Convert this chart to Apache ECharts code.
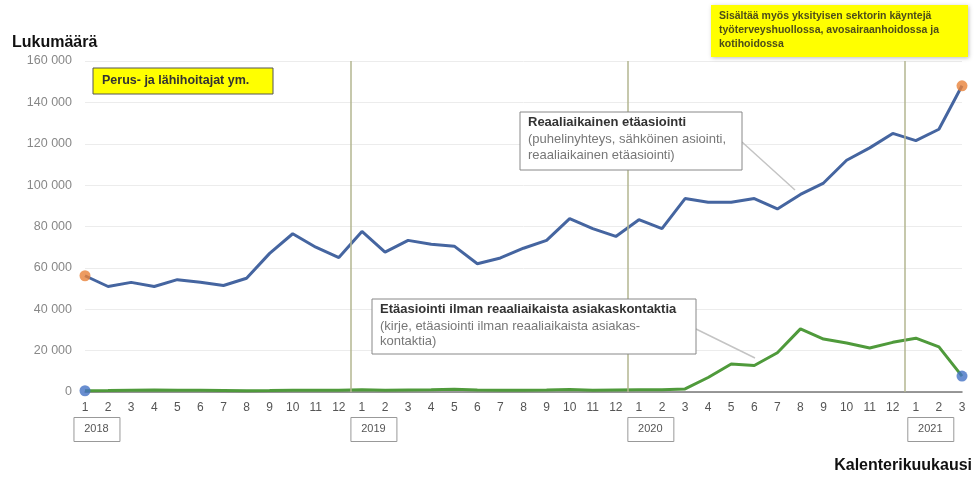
<!DOCTYPE html>
<html lang="fi">
<head>
    <meta charset="UTF-8">
    <title>Etäasiointi</title>
    <script src="https://cdn.jsdelivr.net/npm/echarts@6/dist/echarts.min.js"></script>
    <style>
        html, body { margin: 0; padding: 0; background: #fff; }
        #main { width: 977px; height: 477px; }
    </style>
</head>
<body>
<div id="main"></div>
<script>
    // kuukaudet 1/2018 - 3/2021
    var months = ['1','2','3','4','5','6','7','8','9','10','11','12',
                  '1','2','3','4','5','6','7','8','9','10','11','12',
                  '1','2','3','4','5','6','7','8','9','10','11','12',
                  '1','2','3'];
    var years = ['2018', '2019', '2020', '2021'];
    var yearStart = [0, 12, 24, 36];   // indeksi, josta vuosi alkaa

    // Reaaliaikainen etäasiointi
    var realtime = [56200, 51000, 53000, 51000, 54300, 53000, 51500, 55000, 67000, 76500, 70000, 65000,
                    77600, 67600, 73300, 71400, 70500, 62000, 64800, 69500, 73300, 83800, 79000, 75200,
                    83300, 79000, 93500, 91700, 91700, 93500, 88500, 95500, 101000, 112000, 118000, 125000,
                    121500, 127000, 148000];
    // Etäasiointi ilman reaaliaikaista asiakaskontaktia
    var nonRealtime = [600, 700, 900, 1000, 900, 800, 700, 600, 700, 900, 800, 900,
                       1100, 900, 1000, 1100, 1300, 1000, 800, 900, 1000, 1200, 900, 1000,
                       1100, 1100, 1500, 7000, 13500, 12800, 19000, 30500, 25600, 23700, 21300, 24000,
                       26000, 21800, 7700];

    var last = months.length - 1;
    function pairs(arr) {
        return arr.map(function (v, i) { return [i, v]; });
    }
    function fmt(v) {
        return String(v).replace(/\B(?=(\d{3})+(?!\d))/g, ' ');
    }

    var font = '"Liberation Sans", Arial, sans-serif';
    var myChart = echarts.init(document.getElementById('main'));

    var option = {
        animation: false,
        textStyle: { fontFamily: font },
        grid: { left: 85, right: 15, top: 61, bottom: 85 },
        xAxis: {
            type: 'value',
            min: 0,
            max: last,
            interval: 1,
            axisLine: { show: true, lineStyle: { color: '#777', width: 1.5 } },
            axisTick: { show: false },
            splitLine: { show: false },
            axisLabel: {
                color: '#555',
                fontSize: 12,
                margin: 10,
                showMinLabel: true,
                showMaxLabel: true,
                formatter: function (v) { return months[v]; }
            }
        },
        yAxis: {
            type: 'value',
            min: 0,
            max: 160000,
            interval: 20000,
            axisLine: { show: false },
            axisTick: { show: false },
            splitLine: { lineStyle: { color: '#ececec', width: 1 } },
            axisLabel: {
                color: '#888',
                fontSize: 12.5,
                margin: 13,
                formatter: fmt
            }
        },
        series: [
            {
                name: 'Reaaliaikainen etäasiointi',
                type: 'line',
                data: pairs(realtime),
                symbol: 'none',
                lineStyle: { color: '#4565a0', width: 3 },
                z: 3,
                markLine: {
                    silent: true,
                    symbol: 'none',
                    label: { show: false },
                    lineStyle: { color: '#b3b691', width: 1.5, type: 'solid' },
                    data: yearStart.slice(1).map(function (s) { return { xAxis: s - 0.5 }; })
                }
            },
            {
                name: 'Etäasiointi ilman reaaliaikaista asiakaskontaktia',
                type: 'line',
                data: pairs(nonRealtime),
                symbol: 'none',
                lineStyle: { color: '#4f9a3b', width: 3 },
                z: 3
            },
            {
                type: 'scatter',
                data: [[0, realtime[0]], [last, realtime[last]]],
                symbolSize: 11,
                itemStyle: { color: '#e8823a' },
                z: 5
            },
            {
                type: 'scatter',
                data: [[0, nonRealtime[0]], [last, nonRealtime[last]]],
                symbolSize: 11,
                itemStyle: { color: '#4472c4' },
                z: 5
            }
        ]
    };
    myChart.setOption(option);

    // vuosilaatikot ja selitteet
    var graphics = [];
    yearStart.forEach(function (s, k) {
        var x = myChart.convertToPixel({ xAxisIndex: 0 }, s - 0.5);
        var w = 46;
        graphics.push({
            type: 'rect', left: x + (k === 3 ? 3 : 0), top: 417,
            shape: { width: w, height: 24 },
            style: { fill: '#fff', stroke: '#999', lineWidth: 1 }
        });
        graphics.push({
            type: 'text', x: x + (k === 3 ? 3 : 0) + w / 2, y: 429,
            style: { text: years[k], fill: '#555', font: '11px ' + font, align: 'center', verticalAlign: 'middle' }
        });
    });

    graphics.push(
        { type: 'text', x: 12, y: 43,
          style: { text: 'Lukumäärä', fill: '#111', font: 'bold 16px ' + font, verticalAlign: 'middle' } },
        { type: 'text', x: 972, y: 466,
          style: { text: 'Kalenterikuukausi', fill: '#111', font: 'bold 16px ' + font, align: 'right', verticalAlign: 'middle' } },

        // Perus- ja lähihoitajat
        { type: 'rect', shape: { x: 93, y: 68, width: 180, height: 26 },
          style: { fill: '#ffff00', stroke: '#555', lineWidth: 1 } },
        { type: 'text', x: 102, y: 81,
          style: { text: 'Perus- ja lähihoitajat ym.', fill: '#333', font: 'bold 12.5px ' + font, verticalAlign: 'middle' } },

        // yksityinen sektori
        { type: 'rect', shape: { x: 711, y: 5, width: 257, height: 52 },
          style: { fill: '#ffff00', shadowBlur: 4, shadowColor: 'rgba(0,0,0,0.25)', shadowOffsetX: 1, shadowOffsetY: 1 } },
        { type: 'text', x: 719, y: 9,
          style: { text: 'Sisältää myös yksityisen sektorin käyntejä\ntyöterveyshuollossa, avosairaanhoidossa ja\nkotihoidossa',
                   fill: '#4d4d1a', font: 'bold 10.5px ' + font, lineHeight: 14 } },

        // selite: reaaliaikainen
        { type: 'line', shape: { x1: 742, y1: 142, x2: 795, y2: 190 },
          style: { stroke: '#c4c4c4', lineWidth: 1.5 }, z: 10 },
        { type: 'rect', shape: { x: 520, y: 112, width: 222, height: 58 },
          style: { fill: '#fff', stroke: '#888', lineWidth: 1 }, z: 10 },
        { type: 'text', x: 528, y: 116, z: 11,
          style: { text: 'Reaaliaikainen etäasiointi', fill: '#333', font: 'bold 13px ' + font } },
        { type: 'text', x: 528, y: 132, z: 11,
          style: { text: '(puhelinyhteys, sähköinen asiointi,\nreaaliaikainen etäasiointi)', fill: '#777', font: '13px ' + font, lineHeight: 15.5 } },

        // selite: ei reaaliaikainen
        { type: 'line', shape: { x1: 696, y1: 329, x2: 755, y2: 358 },
          style: { stroke: '#c4c4c4', lineWidth: 1.5 }, z: 10 },
        { type: 'rect', shape: { x: 372, y: 299, width: 324, height: 55 },
          style: { fill: '#fff', stroke: '#888', lineWidth: 1 }, z: 10 },
        { type: 'text', x: 380, y: 303, z: 11,
          style: { text: 'Etäasiointi ilman reaaliaikaista asiakaskontaktia', fill: '#333', font: 'bold 13px ' + font } },
        { type: 'text', x: 380, y: 319, z: 11,
          style: { text: '(kirje, etäasiointi ilman reaaliaikaista asiakas-\nkontaktia)', fill: '#777', font: '13px ' + font, lineHeight: 15 } }
    );

    myChart.setOption({ graphic: graphics });
</script>
</body>
</html>
